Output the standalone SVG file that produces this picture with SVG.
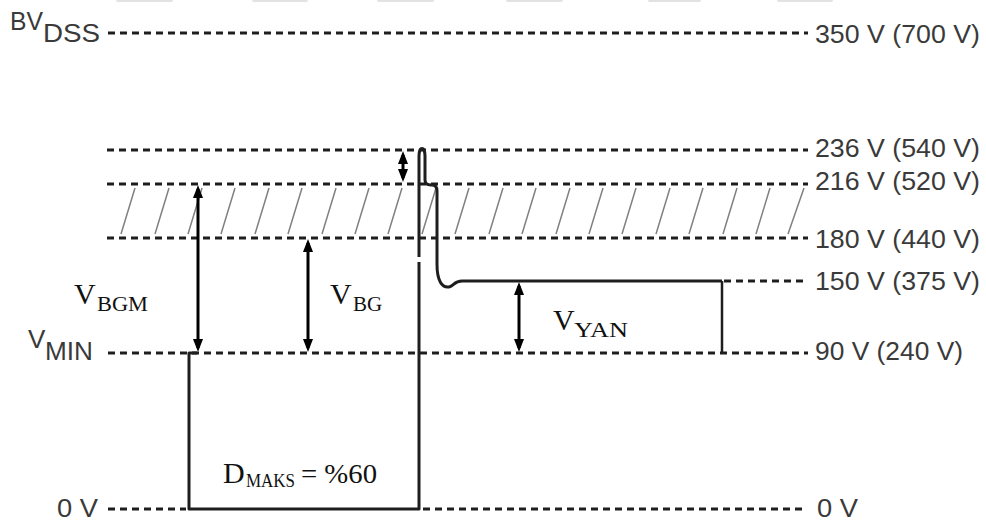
<svg xmlns="http://www.w3.org/2000/svg" width="986" height="523" viewBox="0 0 986 523">
<defs>
<style>
.dash{stroke:#1e1e1e;stroke-width:3;stroke-dasharray:7 5;fill:none}
.hatch{stroke:#808080;stroke-width:1.5;fill:none}
.wave{stroke:#1e1e1e;stroke-width:3;fill:none;stroke-linejoin:round}
.arr{stroke:#000;stroke-width:3;fill:none;marker-start:url(#ah);marker-end:url(#ah)}
.lbl{font-family:"Liberation Sans",Arial,sans-serif;font-size:26px;fill:#3a3a3a}
.tm{font-family:"Liberation Serif","Times New Roman",serif;fill:#111}
.big{font-size:30px}
.sub{font-size:21px}
.top{fill:#e2e2e2}
</style>
<marker id="ah" viewBox="0 0 13 10" refX="9" refY="5" markerWidth="13" markerHeight="10" markerUnits="userSpaceOnUse" orient="auto-start-reverse">
<path d="M0,0 L13,5 L0,10 z" fill="#000"/>
</marker>
</defs>
<rect width="986" height="523" fill="#fff"/>
<g id="top-marks">
<rect class="top" x="116" y="-2" width="57" height="4" rx="2"/>
<rect class="top" x="252" y="-2" width="56" height="4" rx="2"/>
<rect class="top" x="377" y="-2" width="57" height="4" rx="2"/>
<rect class="top" x="506" y="-2" width="57" height="4" rx="2"/>
<rect class="top" x="648" y="-2" width="53" height="4" rx="2"/>
<rect class="top" x="777" y="-2" width="56" height="4" rx="2"/>
</g>
<g id="hatch">
<path class="hatch" d="M135,188 L121,234 M169,188 L155,234 M202,188 L188,234 M235,188 L221,234 M269,188 L255,234 M302,188 L288,234 M336,188 L322,234 M369,188 L355,234 M402,188 L388,234 M436,188 L422,234 M469,188 L455,234 M503,188 L489,234 M536,188 L522,234 M570,188 L556,234 M603,188 L589,234 M636,188 L622,234 M670,188 L656,234 M703,188 L689,234 M737,188 L723,234 M770,188 L756,234 M804,188 L788,234"/>
</g>
<g id="connectors">
<line class="dash" x1="108" y1="33" x2="808" y2="33"/>
<line class="dash" x1="107" y1="150" x2="808" y2="150"/>
<line class="dash" x1="107" y1="184" x2="808" y2="184"/>
<line class="dash" x1="107" y1="238" x2="808" y2="238"/>
<line class="dash" x1="724" y1="281" x2="808" y2="281"/>
<line class="dash" x1="108" y1="353" x2="808" y2="353"/>
<line class="dash" x1="108" y1="509" x2="186" y2="509"/>
<line class="dash" x1="423" y1="509" x2="806" y2="509"/>
<path class="wave" d="M197,353 L189,353 L189,509 L419,509 L419,262"/>
<path class="wave" d="M419,257 L419,156 C419,146 425,146 425,156 L425,180 Q425,185 431,185 L432,185 Q437,185 437,191 L437,264 C437,281 442,288 449,287 C454,286 454,281 462,281 L722,281"/>
<path class="wave" style="stroke-width:2.5" d="M722,281 L722,353"/>
</g>
<g id="arrow-vbgm"><line class="arr" x1="198" y1="189" x2="198" y2="348"/></g>
<g id="arrow-vbg"><line class="arr" x1="308" y1="243" x2="308" y2="348"/></g>
<g id="arrow-peak"><line class="arr" x1="403" y1="155" x2="403" y2="178"/></g>
<g id="arrow-vyan"><line class="arr" x1="519" y1="286" x2="519" y2="348"/></g>
<g id="label-bvdss"><text class="lbl" x="10" y="30" textLength="33" lengthAdjust="spacingAndGlyphs">BV</text><text class="lbl" x="43" y="42" textLength="57" lengthAdjust="spacingAndGlyphs">DSS</text></g>
<g id="label-vmin"><text class="lbl" x="28" y="348">V</text><text class="lbl" x="45" y="360" textLength="48" lengthAdjust="spacingAndGlyphs">MIN</text></g>
<g id="label-0v-left"><text class="lbl" x="57" y="517" textLength="41" lengthAdjust="spacingAndGlyphs">0 V</text></g>
<g id="label-350"><text class="lbl" x="815" y="43" textLength="165" lengthAdjust="spacingAndGlyphs">350 V (700 V)</text></g>
<g id="label-236"><text class="lbl" x="815" y="157" textLength="165" lengthAdjust="spacingAndGlyphs">236 V (540 V)</text></g>
<g id="label-216"><text class="lbl" x="815" y="190" textLength="165" lengthAdjust="spacingAndGlyphs">216 V (520 V)</text></g>
<g id="label-180"><text class="lbl" x="815" y="248" textLength="165" lengthAdjust="spacingAndGlyphs">180 V (440 V)</text></g>
<g id="label-150"><text class="lbl" x="815" y="290" textLength="165" lengthAdjust="spacingAndGlyphs">150 V (375 V)</text></g>
<g id="label-90"><text class="lbl" x="815" y="360" textLength="148" lengthAdjust="spacingAndGlyphs">90 V (240 V)</text></g>
<g id="label-0v-right"><text class="lbl" x="817" y="517" textLength="41" lengthAdjust="spacingAndGlyphs">0 V</text></g>
<g id="label-vbgm"><text class="tm big" x="74" y="304">V</text><text class="tm sub" x="97" y="311" textLength="51" lengthAdjust="spacingAndGlyphs">BGM</text></g>
<g id="label-vbg"><text class="tm big" x="330" y="304">V</text><text class="tm sub" x="353" y="311">BG</text></g>
<g id="label-vyan"><text class="tm big" x="553" y="330">V</text><text class="tm sub" x="574" y="337" textLength="54" lengthAdjust="spacingAndGlyphs">YAN</text></g>
<g id="label-dmaks"><text class="tm" x="223" y="483" font-size="30">D</text><text class="tm" x="246" y="487" font-size="18" textLength="49" lengthAdjust="spacingAndGlyphs">MAKS</text><text class="tm" x="301" y="483" font-size="28" textLength="76" lengthAdjust="spacingAndGlyphs">= %60</text></g>
</svg>
